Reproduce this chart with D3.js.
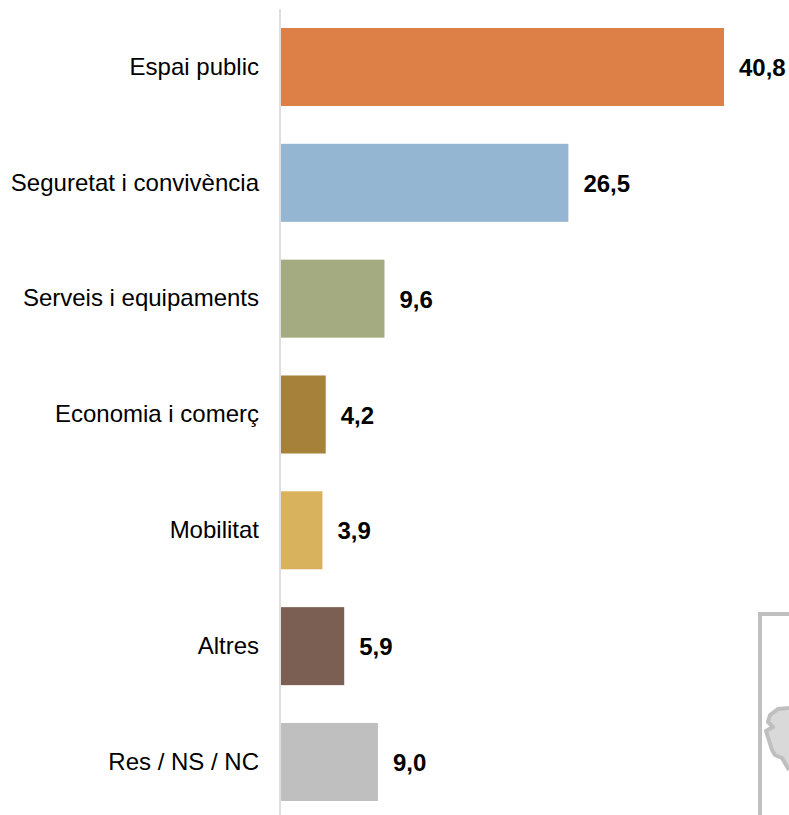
<!DOCTYPE html>
<html><head><meta charset="utf-8">
<script src="https://cdn.jsdelivr.net/npm/d3@7"></script>
<style>html,body{margin:0;padding:0;background:#fff;overflow:hidden}svg{display:block}text{font-family:"Liberation Sans",Arial,sans-serif}</style>
</head><body><div id="chart"></div>
<script>
const categories=["Espai public","Seguretat i convivència","Serveis i equipaments","Economia i comerç","Mobilitat","Altres","Res / NS / NC"];
const values=[40.8,26.5,9.6,4.2,3.9,5.9,9.0];
const labels=["40,8","26,5","9,6","4,2","3,9","5,9","9,0"];
const colors=["#dd8047","#94b6d2","#a5ab81","#a5813a","#d8b25c","#7b5f53","#bfbfbf"];
const insetMap=[[789,708],[778,709],[770,715],[768,722],[773,727],[766,731],[772,750],[775,755],[782,758],[789,770]];

const W=789,H=815;
const svg=d3.select("#chart").append("svg").attr("width",W).attr("height",H);
const x=d3.scaleLinear().domain([0,40.8]).range([280,724]);
const y=d3.scaleBand().domain(categories).range([9.08,819.9]).paddingInner(37.83/115.83).paddingOuter(18.92/115.83);

svg.append("path").attr("d",d3.line()(insetMap)).attr("fill","#d9d9d9").attr("stroke","#bfbfbf").attr("stroke-width",4).attr("stroke-linejoin","round");
svg.append("path").attr("d","M760,815V614H789").attr("fill","none").attr("stroke","#bfbfbf").attr("stroke-width",4);

svg.append("g").selectAll("rect").data(values).join("rect")
  .attr("x",x(0)).attr("y",(d,i)=>y(categories[i])).attr("width",d=>x(d)-x(0)).attr("height",y.bandwidth())
  .attr("fill",(d,i)=>colors[i]);

const axis=svg.append("g").attr("transform",`translate(${x(0)},0)`).call(d3.axisLeft(y).tickSize(0).tickPadding(21));
axis.select(".domain").attr("stroke","#dedede").attr("stroke-width",2).attr("d","M0,9V815");
axis.selectAll("text").attr("font-size",24).attr("font-family",'"Liberation Sans",Arial,sans-serif').attr("fill","#000");

svg.append("g").selectAll("text").data(values).join("text")
  .attr("x",d=>x(d)+15).attr("y",(d,i)=>y(categories[i])+y.bandwidth()/2).attr("dy","0.38em")
  .attr("font-size",24).attr("font-weight","bold").attr("fill","#000").text((d,i)=>labels[i]);
</script></body></html>
